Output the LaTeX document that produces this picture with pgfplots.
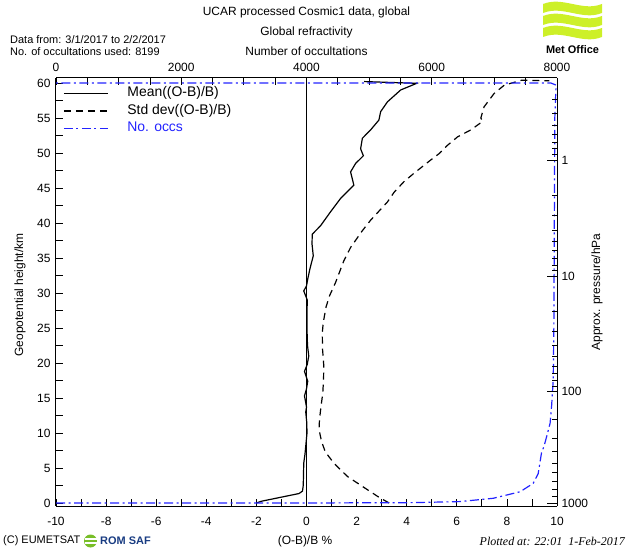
\documentclass[border=0pt]{standalone}
\usepackage{pgfplots}
\usepackage{pgfplotstable}
\pgfplotsset{compat=1.18}
\usepackage{fontspec}
\setmainfont{Liberation Sans}
\newfontfamily\serifit{Liberation Serif}
\definecolor{occblue}{RGB}{35,35,255}
\definecolor{metgreen}{RGB}{205,240,40}
\definecolor{romblue}{RGB}{25,60,130}
\definecolor{romgreen}{RGB}{120,190,40}
\newcommand\fs[1]{\fontsize{#1}{#1}\selectfont}

% mean (O-B)/B in %, height in km
\pgfplotstableread{
x y
-2.00 0.00
-1.80 0.25
-0.30 1.35
-0.16 1.70
-0.13 2.5
-0.12 4.0
-0.11 5.7
-0.06 7.0
-0.02 8.5
0.02 10.0
0.01 11.5
-0.03 13.0
0.00 13.7
-0.08 15.3
0.00 16.3
0.05 17.4
-0.08 18.8
0.03 19.8
0.09 21.0
0.04 22.5
0.02 24.8
0.02 27.0
0.03 29.0
-0.11 30.3
0.00 31.0
0.05 32.0
0.14 33.5
0.27 35.3
0.22 37.0
0.23 38.4
0.56 39.6
0.96 41.6
1.36 43.5
1.89 45.4
1.76 47.3
1.96 48.5
2.27 49.6
2.16 50.6
2.23 52.1
2.56 53.3
2.89 54.7
2.96 55.9
3.23 57.3
3.76 59.0
4.40 59.95
2.30 60.2
}\meantable

% std dev (O-B)/B in %
\pgfplotstableread{
x y
3.30 0.00
2.90 0.80
2.43 1.90
1.63 3.80
1.09 5.70
0.75 7.30
0.60 8.80
0.50 10.5
0.52 12.0
0.58 13.8
0.65 15.7
0.68 17.6
0.69 19.6
0.64 22.0
0.63 24.3
0.67 25.8
0.78 28.0
0.92 29.6
1.16 31.5
1.49 34.6
1.76 36.5
2.23 38.9
2.56 40.4
3.23 43.0
3.50 44.4
3.89 45.9
4.29 47.1
4.96 49.0
5.29 49.9
5.63 51.1
6.03 52.3
6.56 53.3
7.03 54.5
6.96 55.0
7.09 56.6
7.49 58.5
7.90 59.7
8.60 60.4
9.70 60.3
}\sdtable

% number of occultations
\pgfplotstableread{
n y
0 0.0
4000 0.0
5700 0.05
6450 0.2
6980 0.67
7410 1.6
7620 2.8
7700 4.2
7755 7.3
7790 8.0
7850 10.0
7890 11.4
7915 14.0
7940 17.6
7950 25
7955 35
7960 45
7965 55
7985 59.7
7900 60.0
0 60.0
}\occtable

\pgfplotsset{
  base/.style={
    scale only axis, width=501bp, height=428bp,
    at={(0,0)}, anchor=south west,
    ymin=-0.43, ymax=60.71,
    tick align=inside,
    major tick length=7bp, minor tick length=7bp,
    every tick/.style={black, line width=0.8bp},
    axis line style={black, line width=1bp},
    tick label style={font=\fs{12}},
    /pgf/number format/assume math mode=true,
    /pgf/number format/1000 sep={},
  },
  sddash/.style={dash pattern=on 7bp off 5bp},
  occdash/.style={dash pattern=on 9bp off 3.5bp on 2bp off 3.5bp},
}

\begin{document}
\begin{tikzpicture}
\useasboundingbox (-56bp,-43bp) rectangle (572bp,506bp);

\begin{axis}[base,
  xmin=-10, xmax=10,
  axis x line*=bottom, axis y line*=left,
  xtick={-10,-8,...,10}, minor xtick={-9,-7,...,9},
  ytick={0,5,...,60}, minor ytick={2.5,7.5,...,57.5},
  xticklabel style={yshift=-7.5bp},
  yticklabel style={xshift=-2bp},
  legend cell align=left,
  legend image code/.code={\draw[#1] (0bp,0bp) -- (44bp,0bp);},
  legend style={draw=none, fill=none, at={(axis description cs:0,1)},
    anchor=north west, xshift=7bp, yshift=-7.5bp, inner sep=0pt,
    row sep=2bp, column sep=18bp, font=\fs{14},
    nodes={inner sep=1bp, text height=10bp, text depth=3.5bp}},
]
\addplot[black, line width=0.8bp, forget plot] coordinates {(0,-0.43) (0,60.71)};
\addplot[black, line width=1.2bp] table {\meantable};
\addlegendentry{Mean((O-B)/B)}
\addplot[black, line width=1.2bp, sddash] table {\sdtable};
\addlegendentry{Std dev((O-B)/B)}
\addlegendimage{occblue, line width=1.2bp, occdash}
\addlegendentry{\textcolor{occblue}{No. occs}}
\end{axis}

\begin{axis}[base,
  xmin=0, xmax=8000,
  axis x line*=top, hide y axis,
  scaled x ticks=false,
  xtick={0,2000,...,8000}, minor xtick={500,1000,...,7500},
  xticklabel style={yshift=2.5bp},
]
\addplot[occblue, line width=1.2bp, occdash] table[x=n, y=y] {\occtable};
\end{axis}

\begin{axis}[base,
  xmin=0, xmax=1,
  hide x axis, axis y line*=right,
  major tick length=10bp, minor tick length=5bp,
  ytick={0,15.9,32.4,49.0}, yticklabels={1000,100,10,1},
  minor ytick={0.99,2.0,3.1,4.3,5.7,7.3,9.2,11.9,
    16.65,17.50,18.46,19.56,20.87,22.47,24.53,27.43,
    33.16,34.01,34.97,36.08,37.40,39.01,41.08,44.00,
    49.76,50.61,51.57,52.68,54.00,55.61,57.68},
  yticklabel style={xshift=1bp},
]
\end{axis}

% titles and annotations
\node[font=\fs{12}] at (250.5bp,494bp) {UCAR processed Cosmic1 data, global};
\node[font=\fs{12}] at (250.5bp,474bp) {Global refractivity};
\node[font=\fs{12}] at (250.5bp,455bp) {Number of occultations};
\node[font=\fs{11}, anchor=west, inner sep=0pt] at (-46bp,466bp) {Data from: 3/1/2017 to 2/2/2017};
\node[font=\fs{11}, anchor=west, inner sep=0pt] at (-46bp,454bp) {No. of occultations used: 8199};
\node[font=\fs{12}, rotate=90] at (-36bp,211bp) {Geopotential height/km};
\node[font=\fs{12}, rotate=90] at (541bp,214bp) {Approx. pressure/hPa};
\node[font=\fs{12}] at (249bp,-35bp) {(O-B)/B \%};
\node[font=\serifit\itshape\fs{12}, anchor=east, inner sep=0pt] at (569bp,-35bp) {Plotted at: 22:01\ \ 1-Feb-2017};

% EUMETSAT / ROM SAF footer
\node[font=\fs{11}, anchor=west, inner sep=0pt] at (-53bp,-35bp) {(C) EUMETSAT};
\fill[romgreen] (34.5bp,-35bp) circle (6.5bp);
\draw[white, line width=1.2bp] (29bp,-33bp) -- (41bp,-33bp) (29bp,-37bp) -- (41bp,-37bp);
\node[font=\bfseries\fs{11}, text=romblue, anchor=west, inner sep=0pt] at (44bp,-35bp) {ROM SAF};

% Met Office logo
\foreach \b in {469,481,493}{
  \fill[metgreen] (487bp,\b bp+9bp) .. controls (507bp,\b bp+17bp) and (526bp,\b bp+1bp) .. (546bp,\b bp+9bp)
    -- (546bp,\b bp) .. controls (526bp,\b bp-8bp) and (507bp,\b bp+8bp) .. (487bp,\b bp) -- cycle;
}
\node[font=\bfseries\fs{11}] at (516.5bp,456bp) {Met Office};
\end{tikzpicture}
\end{document}
